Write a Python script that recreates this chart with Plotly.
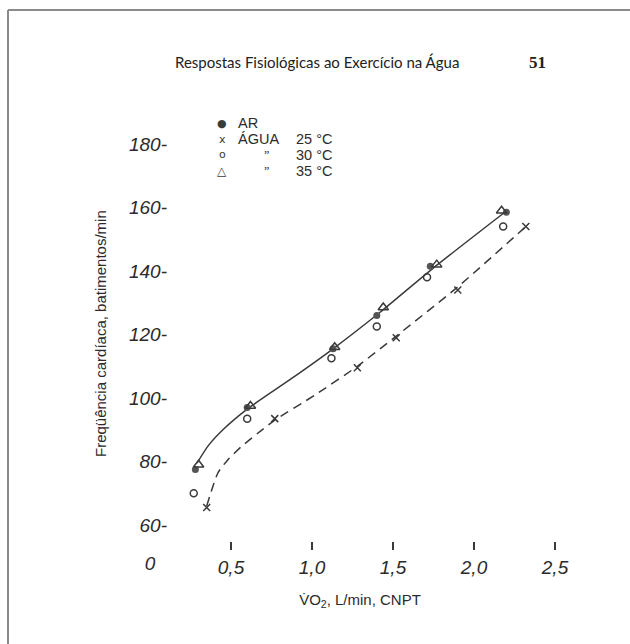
import plotly.graph_objects as go

# ---------------- data ----------------
ar_x = [0.28, 0.60, 1.13, 1.40, 1.73, 2.20]
ar_y = [77.5, 97.0, 115.5, 126.0, 141.5, 158.5]
agua25_x = [0.35, 0.77, 1.28, 1.52, 1.90, 2.32]
agua25_y = [65.5, 93.5, 109.5, 119.0, 134.0, 154.0]
agua30_x = [0.27, 0.60, 1.12, 1.40, 1.71, 2.18]
agua30_y = [70.0, 93.5, 112.5, 122.5, 138.0, 154.0]
agua35_x = [0.30, 0.62, 1.14, 1.44, 1.77, 2.17]
agua35_y = [79.0, 97.5, 116.0, 128.5, 142.0, 159.0]

# hand-drawn curves
curve_solid_x = [0.29, 0.36, 0.45, 0.60, 0.87, 1.13, 1.42, 1.75, 2.19]
curve_solid_y = [79.5, 85.0, 90.0, 96.5, 106.0, 115.5, 127.0, 141.0, 158.5]
curve_dash_x = [0.35, 0.42, 0.48, 0.56, 0.68, 0.77, 1.02, 1.28, 1.52, 1.90, 2.32]
curve_dash_y = [66.0, 76.5, 80.5, 84.5, 89.5, 93.0, 101.0, 110.0, 119.5, 135.0, 154.0]

y_tick_values = [60, 80, 100, 120, 140, 160, 180]
y_tick_labels = ["60-", "80-", "100-", "120-", "140-", "160-", "180-"]
x_tick_values = [0.5, 1.0, 1.5, 2.0, 2.5]
x_tick_labels = ["0,5", "1,0", "1,5", "2,0", "2,5"]
x_zero_label = ["0"]

legend_symbols = ["●", "x", "o", "△"]
legend_names = ["AR", "ÁGUA", "”", "”"]
legend_temps = ["", "25 °C", "30 °C", "35 °C"]

header_text = "Respostas Fisiológicas ao Exercício na Água"
page_number = "51"
x_title = "V\u0307O<sub>2</sub>, L/min, CNPT"
y_title = "Freqüência cardíaca, batimentos/min"

# ---------------- layout geometry ----------------
W, H = 630, 644
L, R, T, B = 120, 30, 100, 103
PW, PH = W - L - R, H - T - B
X0_PX, PX_PER_X = 150, 162.0      # pixel of x=0, pixels per L/min
Y60_PX, PX_PER_Y = 525, 3.175     # pixel of y=60, pixels per bpm

x_range = [(L - X0_PX) / PX_PER_X, (W - R - X0_PX) / PX_PER_X]
y_range = [60 - ((H - B) - Y60_PX) / PX_PER_Y, 60 + (Y60_PX - T) / PX_PER_Y]


def px(xp):
    return (xp - L) / PW


def py(yp):
    return ((H - B) - yp) / PH


INK = "#2b2b2b"
MARK = "#3a3a3a"

fig = go.Figure()

fig.add_trace(go.Scatter(x=curve_solid_x, y=curve_solid_y, mode="lines",
                         line=dict(color=MARK, width=1.5, shape="spline", smoothing=0.6),
                         showlegend=False, hoverinfo="skip"))
fig.add_trace(go.Scatter(x=curve_dash_x, y=curve_dash_y, mode="lines",
                         line=dict(color=MARK, width=1.5, shape="spline", smoothing=0.6,
                                   dash="9px,6px"),
                         showlegend=False, hoverinfo="skip"))

fig.add_trace(go.Scatter(x=ar_x, y=ar_y, mode="markers", name="AR",
                         marker=dict(symbol="circle", size=7, color="#555555"),
                         showlegend=False))
fig.add_trace(go.Scatter(x=agua25_x, y=agua25_y, mode="markers", name="ÁGUA 25 °C",
                         marker=dict(symbol="x-thin-open", size=7, color=MARK,
                                     line=dict(color=MARK, width=1.5)),
                         showlegend=False))
fig.add_trace(go.Scatter(x=agua30_x, y=agua30_y, mode="markers", name="ÁGUA 30 °C",
                         marker=dict(symbol="circle-open", size=7, color=MARK,
                                     line=dict(color=MARK, width=1.5)),
                         showlegend=False))
fig.add_trace(go.Scatter(x=agua35_x, y=agua35_y, mode="markers", name="ÁGUA 35 °C",
                         marker=dict(symbol="triangle-up-open", size=9, color=MARK,
                                     line=dict(color=MARK, width=1.5)),
                         showlegend=False))

tick_font = dict(family="Liberation Sans", size=19, color=INK, style="italic")

fig.update_layout(
    width=W, height=H,
    margin=dict(l=L, r=R, t=T, b=B, pad=0),
    paper_bgcolor="white", plot_bgcolor="white",
    showlegend=False,
    xaxis=dict(range=x_range, showgrid=False, zeroline=False, showline=False,
               tickmode="array", tickvals=x_tick_values, ticktext=x_tick_labels,
               ticks="outside", ticklen=8, tickwidth=1.5, tickcolor=MARK,
               tickfont=tick_font, ticklabelstandoff=1,
               title=dict(text=x_title, standoff=17,
                          font=dict(family="Liberation Sans", size=15, color=INK))),
    xaxis2=dict(range=x_range, matches="x", overlaying="x", anchor="y", side="bottom",
                showgrid=False, zeroline=False, showline=False,
                tickmode="array", tickvals=[0], ticktext=x_zero_label,
                ticks="", tickfont=tick_font, ticklabelstandoff=9),
    yaxis=dict(range=y_range, showgrid=False, zeroline=False, showline=False,
               anchor="free", position=px(167),
               tickmode="array", tickvals=y_tick_values, ticktext=y_tick_labels,
               ticks="", tickfont=tick_font),
)

# overlay axis carrying the lone "0" origin label
fig.add_trace(go.Scatter(x=[None], y=[None], xaxis="x2", showlegend=False, hoverinfo="skip"))

ann = []
# header
ann.append(dict(text=header_text, x=px(317), y=py(62), xref="paper", yref="paper",
                xanchor="center", yanchor="middle",
                showarrow=False, font=dict(family="Lato", size=15, color="#222")))
ann.append(dict(text=f"<b>{page_number}</b>", x=px(537), y=py(62), xref="paper", yref="paper",
                xanchor="center", yanchor="middle",
                showarrow=False, font=dict(family="Liberation Serif", size=17, color="#222")))
# y title
ann.append(dict(text=y_title, x=px(100), y=py(334), xref="paper", yref="paper",
                xanchor="center", yanchor="middle",
                textangle=-90, showarrow=False,
                font=dict(family="Liberation Sans", size=15, color=INK)))

# legend drawn as text
rows = [123, 139, 155, 171]
sym_sizes = [11, 11, 11, 12]
for i, yy in enumerate(rows):
    ann.append(dict(text=legend_symbols[i], x=px(222), y=py(yy), xref="paper", yref="paper",
                    showarrow=False, xanchor="center", yanchor="middle",
                    font=dict(family="DejaVu Sans", size=sym_sizes[i], color=MARK)))
    if i < 2:
        ann.append(dict(text=legend_names[i], x=px(236), y=py(yy), xref="paper", yref="paper",
                        showarrow=False, xanchor="left", yanchor="middle",
                        font=dict(family="Liberation Sans", size=14.5, color=INK)))
    else:
        ann.append(dict(text=legend_names[i], x=px(266), y=py(yy), xref="paper", yref="paper",
                        showarrow=False, xanchor="center", yanchor="middle",
                        font=dict(family="Liberation Serif", size=12, color=INK)))
    if legend_temps[i]:
        ann.append(dict(text=legend_temps[i], x=px(294), y=py(yy), xref="paper", yref="paper",
                        showarrow=False, xanchor="left", yanchor="middle",
                        font=dict(family="Liberation Sans", size=14.5, color=INK)))
fig.update_layout(annotations=ann)

# page frame (left and top edges of the scanned box)
fig.add_shape(type="line", xref="paper", yref="paper", x0=px(8), x1=px(8), y0=py(10), y1=py(644),
              line=dict(color="#8a8a8a", width=2))
fig.add_shape(type="line", xref="paper", yref="paper", x0=px(8), x1=px(630), y0=py(10), y1=py(10),
              line=dict(color="#8a8a8a", width=2))

fig.write_html("out.html")
